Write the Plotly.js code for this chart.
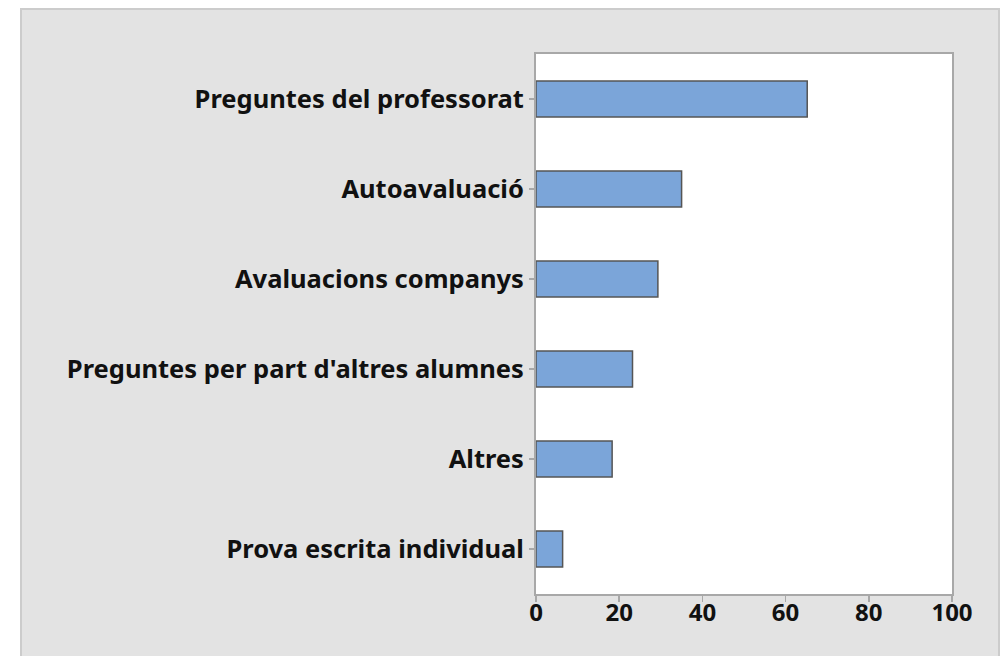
<!DOCTYPE html>
<html>
<head>
<meta charset="utf-8">
<script src="https://cdn.plot.ly/plotly-3.0.1.min.js"></script>
<style>
html,body{margin:0;padding:0;background:#ffffff;overflow:hidden;}
#wrap{position:absolute;left:20px;top:8px;width:976px;height:660px;border:2px solid #cccccc;border-bottom:none;background:#e3e3e3;}
#chart{width:976px;height:650px;}
</style>
</head>
<body>
<div id="wrap"><div id="chart"></div></div>
<script>
const categories = ["Prova escrita individual","Altres","Preguntes per part d'altres alumnes","Avaluacions companys","Autoavaluació","Preguntes del professorat"];
const values = [6.4, 18.3, 23.2, 29.3, 35.0, 65.2];
const xTicks = [0, 20, 40, 60, 80, 100];

const fontFam = "'Noto Sans', 'Open Sans', sans-serif";
Plotly.newPlot('chart', [{
  type: 'bar',
  orientation: 'h',
  y: categories,
  x: values,
  marker: {color: '#7ba5d9', line: {color: '#555555', width: 1.5}},
  hoverinfo: 'none'
}], {
  width: 976, height: 650,
  margin: {l: 513.5, r: 46, t: 44, b: 66, pad: 0},
  paper_bgcolor: '#e3e3e3',
  plot_bgcolor: '#ffffff',
  bargap: 0.6,
  showlegend: false,
  xaxis: {
    range: [0, 100], tickvals: xTicks, ticktext: xTicks.map(String),
    showgrid: false, zeroline: false,
    showline: true, mirror: true, linecolor: '#a8a8a8', linewidth: 2,
    ticks: 'outside', ticklen: 6, tickcolor: '#a8a8a8', tickwidth: 1.5,
    ticklabelstandoff: -10,
    tickfont: {family: fontFam, size: 24, color: '#111111', weight: 'bold'}
  },
  yaxis: {
    type: 'category', range: [-0.5, 5.5],
    showgrid: false, zeroline: false,
    showline: true, mirror: true, linecolor: '#a8a8a8', linewidth: 2,
    ticks: 'outside', ticklen: 5, tickcolor: '#a8a8a8', tickwidth: 1.5,
    tickfont: {family: fontFam, size: 25.5, color: '#111111', weight: 'bold'}
  }
}, {displayModeBar: false, staticPlot: true});
</script>
</body>
</html>
